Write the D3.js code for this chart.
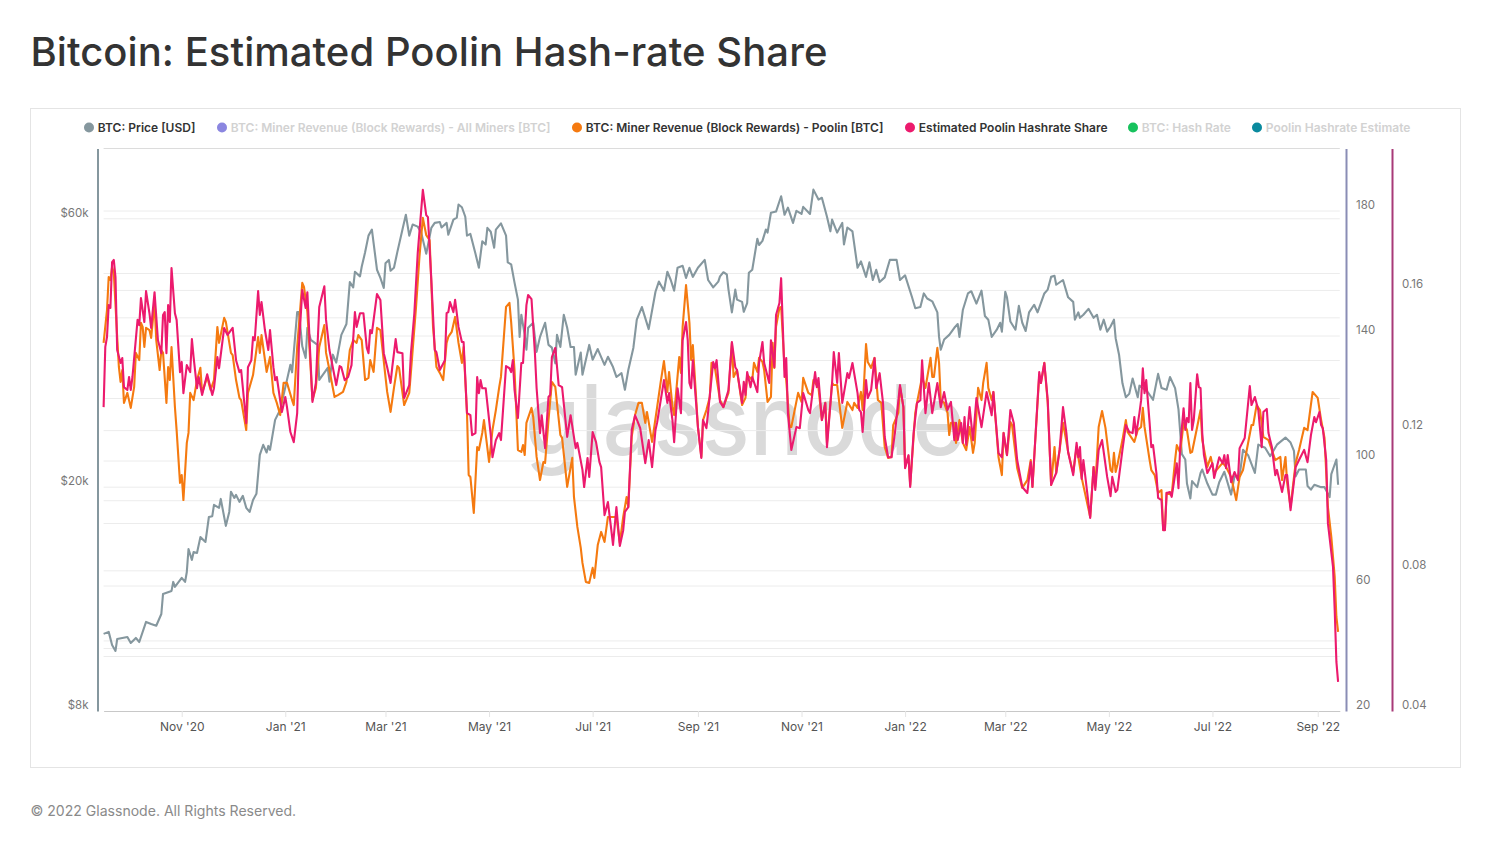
<!DOCTYPE html>
<html>

<head>
  <meta charset="utf-8">
  <title>Bitcoin: Estimated Poolin Hash-rate Share</title>
  <script src="https://d3js.org/d3.v7.min.js"></script>
  <style>
    body {
      margin: 0;
      background: #fff;
      font-family: Inter, "Noto Sans", sans-serif;
    }

    .axis text {
      font-family: Inter, "Noto Sans", sans-serif;
    }
  </style>
</head>

<body>
  <svg id="chart" width="1491" height="856"></svg>

  <script>
    var titleText = "Bitcoin: Estimated Poolin Hash-rate Share";
    var footerText = "\u00a9 2022 Glassnode. All Rights Reserved.";

    var legendLabels = ["BTC: Price [USD]", "BTC: Miner Revenue (Block Rewards) - All Miners [BTC]", "BTC: Miner Revenue (Block Rewards) - Poolin [BTC]", "Estimated Poolin Hashrate Share", "BTC: Hash Rate", "Poolin Hashrate Estimate"];
    var legendColors = ["#85979e", "#8b86e0", "#f57a10", "#ec1a6d", "#17c25d", "#0a8a9e"];
    var legendActive = [true, false, true, true, false, false];

    var monthTicks = ["2020-11-01", "2021-01-01", "2021-03-01", "2021-05-01", "2021-07-01", "2021-09-01", "2021-11-01", "2022-01-01", "2022-03-01", "2022-05-01", "2022-07-01", "2022-09-01"];
    var priceTicks = [8, 20, 60];
    var priceGrid = [10, 20, 40, 60];
    var revenueTicks = [20, 60, 100, 140, 180];
    var revenueGrid = [40, 60, 80, 100, 120, 140, 160, 180];
    var shareTicks = [0.04, 0.08, 0.12, 0.16];
    var shareGrid = [0.06, 0.08, 0.1, 0.12, 0.14, 0.16];

    // day numbers count from 16 Sep 2020, price is in $k
    var priceDays = [0, 3, 5, 7, 8, 14, 16, 19, 21, 25, 28, 31, 34, 35, 40, 41, 42, 46, 48, 49,
      50, 52, 53, 55, 57, 60, 62, 64, 65, 68, 69, 72, 74, 75, 77, 78, 80, 82, 84, 86,
      88, 90, 92, 94, 96, 97, 98, 101, 104, 108, 110, 111, 114, 115, 117, 119, 120, 122, 126, 127,
      132, 133, 135, 137, 140, 143, 145, 147, 148, 151, 152, 154, 156, 158, 161, 163, 165, 166, 168, 169,
      171, 173, 176, 178, 180, 182, 185, 187, 190, 193, 195, 198, 199, 202, 203, 206, 208, 209, 211, 213,
      214, 216, 219, 221, 223, 225, 226, 228, 230, 231, 234, 237, 238, 240, 242, 244, 245, 246, 248, 249,
      250, 253, 255, 257, 260, 262, 264, 266, 267, 269, 271, 273, 275, 277, 278, 281, 282, 286, 288, 291,
      295, 297, 300, 302, 305, 307, 309, 312, 314, 317, 321, 325, 327, 330, 332, 334, 336, 338, 341, 343,
      345, 347, 350, 354, 356, 359, 362, 363, 365, 367, 368, 370, 372, 373, 376, 377, 379, 380, 382, 385,
      386, 388, 390, 391, 393, 396, 399, 401, 403, 406, 408, 411, 412, 416, 418, 421, 423, 426, 428, 429,
      432, 435, 436, 438, 441, 444, 446, 449, 451, 453, 455, 457, 460, 463, 467, 469, 472, 476, 478, 481,
      483, 485, 488, 491, 492, 493, 495, 498, 501, 503, 504, 506, 509, 511, 514, 517, 519, 521, 523, 526,
      528, 529, 531, 532, 534, 537, 539, 541, 543, 545, 548, 550, 554, 556, 558, 560, 561, 565, 568, 571,
      572, 574, 575, 577, 580, 583, 585, 587, 589, 591, 593, 595, 596, 598, 600, 602, 604, 606, 609, 610,
      615, 618, 621, 623, 626, 628, 631, 633, 635, 637, 638, 640, 641, 644, 646, 647, 650, 653, 655, 657,
      660, 664, 666, 669, 671, 674, 678, 680, 684, 687, 691, 696, 699, 701, 702, 704, 708, 709, 711, 713,
      717, 719, 722, 723, 726, 727];
    var priceValues = [10.97, 11.06, 10.48, 10.23, 10.74, 10.83, 10.57, 10.79, 10.61, 11.52, 11.42, 11.34, 11.9, 12.92, 13.08, 13.57, 13.3, 13.8, 13.57, 14.13,
      15.53, 14.85, 15.34, 15.28, 16.3, 15.98, 17.7, 17.76, 18.6, 18.38, 19.06, 17.07, 18.07, 19.62, 19.14, 19.38, 18.83, 19.3, 18.38, 18.07,
      18.98, 19.46, 22.82, 23.78, 23.05, 23.68, 23.3, 26.34, 27.45, 31.03, 33, 32, 40.97, 40.97, 35.6, 33.95, 38.4, 36.56, 35.8, 31.03,
      32.6, 30.8, 34.4, 33.3, 37.3, 39, 46.3, 45.3, 48.3, 47.4, 49.3, 52.3, 56, 57.4, 48.7, 47.1, 45.2, 50, 50.7, 48.5,
      49.1, 52.4, 57.4, 61, 56, 58.6, 58.1, 56.7, 52, 57.8, 59, 59.2, 57.9, 59, 56.2, 59.8, 60.3, 63.6, 62.9, 60.5,
      56, 56.4, 52, 49.1, 54.7, 54, 57.8, 56.9, 53.3, 57.4, 58.9, 56, 50.2, 49.8, 46.2, 43.1, 37, 40.5, 37.3, 35.1,
      38.4, 39.2, 34.8, 37, 39.2, 35.8, 35.4, 33.2, 37.3, 35.5, 40.5, 38.4, 35.5, 35.5, 31.7, 34.7, 31.7, 35.8, 33.7, 35.2,
      33, 34.1, 32.7, 31.4, 31.9, 29.8, 32.3, 35.4, 39.7, 41.8, 38.2, 44.5, 46.4, 44.7, 48.3, 46.7, 44.7, 49.1, 49.5, 47.1,
      49.1, 47.3, 49.1, 50.7, 46.7, 45.3, 46.4, 47.4, 48.2, 47.8, 44.9, 40.9, 44.9, 43.1, 42.7, 41, 42.5, 48.1, 48.7, 55.3,
      53.9, 54.8, 57.4, 56.7, 61.5, 61.8, 65.8, 61, 62.8, 59, 62, 61.2, 63, 61.2, 67.6, 64.9, 65.4, 60.5, 57, 59.8,
      56.7, 59, 54, 57.9, 57, 49.1, 50.4, 47.3, 50.2, 46.7, 48.7, 46.3, 47.2, 50.7, 50.7, 46.7, 47.6, 43.6, 41.6, 41.8,
      44.2, 43.3, 42.8, 40.9, 37, 35.1, 36.6, 37.3, 38.4, 39, 37, 41.3, 44.2, 44.6, 42.4, 44.7, 40.3, 39.7, 37, 38.1,
      39.2, 37.8, 44.5, 43.5, 39.4, 38.1, 42, 39.2, 37.9, 40.9, 42.2, 40.9, 44.2, 44.9, 47.3, 47.5, 45.8, 46.7, 43.5, 42.7,
      39.7, 40.9, 40, 40.5, 41.5, 40, 40.5, 38.1, 39.7, 37.8, 38.6, 39.7, 36.8, 34.4, 30.6, 28.9, 29.3, 31.2, 28.9, 30.3,
      29.5, 28.6, 31.8, 30, 29.8, 31.4, 30, 27.5, 22.9, 22.4, 20.3, 19.1, 20.5, 20, 21.2, 21.5, 20.3, 19.4, 19.4, 20.4,
      21.3, 19.4, 20.9, 20.9, 23.3, 22.8, 21.2, 23.8, 23.5, 22.7, 23.8, 24.5, 24, 23.2, 20.9, 21.5, 21.5, 20.1, 19.8, 20.2,
      20, 20, 19.2, 21.1, 22.4, 20.2];

    var revenueDays = [0, 2, 3, 4, 5, 6, 8, 9, 10, 11, 12, 14, 16, 18, 19, 21, 22, 23, 24, 25,
      27, 28, 30, 31, 33, 34, 35, 37, 38, 39, 40, 42, 43, 45, 46, 47, 49, 50, 51, 53,
      55, 57, 58, 61, 63, 65, 67, 68, 71, 72, 75, 76, 78, 80, 81, 84, 85, 88, 91, 92,
      93, 96, 98, 100, 102, 104, 106, 108, 111, 112, 114, 117, 118, 120, 123, 125, 127, 130, 131, 133,
      136, 138, 141, 143, 145, 147, 149, 150, 152, 154, 156, 157, 159, 161, 163, 166, 167, 169, 171, 173,
      174, 177, 180, 181, 184, 186, 188, 190, 192, 194, 196, 198, 200, 202, 203, 205, 207, 209, 211, 212,
      214, 215, 216, 218, 220, 221, 223, 224, 227, 229, 231, 233, 234, 237, 239, 240, 242, 244, 246, 247,
      248, 249, 252, 253, 255, 257, 259, 260, 262, 264, 266, 269, 270, 272, 273, 276, 277, 279, 281, 282,
      284, 286, 288, 289, 291, 293, 295, 297, 302, 304, 306, 308, 309, 311, 313, 315, 317, 319, 320, 323,
      326, 328, 330, 332, 333, 335, 336, 339, 340, 341, 343, 345, 346, 347, 350, 352, 353, 355, 357, 358,
      360, 363, 365, 368, 370, 371, 373, 376, 378, 379, 382, 383, 385, 386, 388, 389, 391, 393, 394, 395,
      396, 398, 399, 401, 402, 404, 405, 409, 411, 412, 415, 417, 418, 421, 423, 425, 426, 429, 430, 432,
      435, 438, 441, 442, 444, 446, 447, 449, 450, 452, 454, 456, 458, 460, 462, 464, 465, 468, 469, 471,
      472, 474, 475, 478, 479, 482, 484, 487, 488, 489, 491, 492, 493, 495, 497, 498, 499, 501, 502, 504,
      506, 508, 510, 512, 513, 515, 517, 518, 520, 521, 523, 524, 527, 529, 530, 532, 534, 535, 538, 541,
      544, 546, 547, 551, 552, 554, 556, 558, 560, 561, 563, 565, 567, 568, 571, 573, 574, 576, 581, 583,
      584, 586, 588, 590, 593, 594, 595, 596, 597, 600, 602, 603, 607, 609, 611, 612, 613, 616, 617, 619,
      621, 623, 624, 625, 626, 629, 631, 632, 634, 636, 638, 640, 641, 644, 646, 647, 650, 652, 654, 659,
      661, 664, 667, 669, 671, 676, 677, 679, 681, 683, 686, 688, 690, 693, 694, 696, 697, 699, 702, 704,
      707, 709, 712, 715, 717, 719, 721, 723, 725, 726, 727];
    var revenueValues = [137.8, 148.3, 158.9, 157.9, 162.1, 160.2, 139.7, 130.1, 125.3, 129.1, 118.6, 121.8, 117, 123.7, 134.6, 132.3, 144.2, 142.9, 136.5, 142.6,
      141.9, 139.4, 150.6, 138.7, 129.1, 135.5, 134.6, 118.6, 130.1, 125.9, 136.5, 117.3, 109.9, 93, 95.5, 87.5, 105.8, 109, 121.8, 119.5,
      125.9, 129.8, 121.8, 126.9, 122.7, 125.9, 142.9, 137.8, 145.8, 144.5, 134.6, 133.9, 125.9, 120.2, 119.5, 109.9, 121.8, 127.5, 139.7, 134.6,
      140.3, 128.5, 133.3, 121.8, 118.6, 114.7, 125, 125, 119.5, 117.9, 136.5, 157, 155.7, 147.7, 119.5, 123.4, 136.5, 143.5, 134.6, 129.1,
      120.5, 121.1, 122.1, 125.3, 135.5, 138.7, 137.8, 140.3, 138.7, 125.9, 126.6, 132.3, 128.5, 142.6, 141.9, 126.9, 122.1, 115.7, 123.4, 130.4,
      129.8, 117.9, 121.8, 128.5, 149.3, 165.3, 177.8, 172.3, 170.7, 142.9, 130.1, 128.2, 125.9, 137.8, 139.7, 141.3, 146.1, 137.8, 131.4, 136.5,
      115.4, 95.5, 94.9, 83.4, 104.5, 103.5, 109, 113.1, 99.7, 109.9, 116.3, 123.7, 126.9, 149.3, 150.6, 144.5, 129.1, 103.5, 102.9, 105.1,
      101.9, 112.2, 117, 114.1, 101.3, 93.9, 99.7, 99.4, 113.1, 125.3, 123.7, 108.3, 107.4, 97.1, 91.7, 101, 88.5, 78.9, 72.2, 67.4,
      61.3, 61, 65.8, 62.6, 73.1, 77.3, 74.1, 82.1, 82.1, 73.8, 82.1, 88.5, 85.3, 107.7, 114.7, 118.6, 118.6, 112.2, 115.7, 106.1,
      117.3, 125, 132, 122.1, 128.5, 117.3, 114.7, 133.3, 128.2, 142.9, 156.3, 144.2, 132.3, 137.1, 110.9, 101.3, 113.1, 116.3, 120.5, 131.4,
      129.8, 119.5, 117.3, 121.8, 137.8, 126.9, 129.1, 117.9, 120.2, 127.5, 125.9, 131.4, 128.5, 133, 131.7, 129.1, 118.9, 120.5, 137.8, 129.8,
      142.9, 149, 149.3, 130.1, 125.9, 110.9, 110.9, 121.8, 118.9, 126.6, 121.8, 121.1, 125.9, 123.4, 113.1, 118.6, 105.8, 125, 124.3, 124.3,
      110.6, 118.9, 116.3, 118.6, 117, 122.1, 116.3, 137.4, 131.7, 129.8, 133, 119.5, 118.6, 104.5, 101, 101.3, 111.5, 115.4, 123.7, 117.3,
      98.1, 101.6, 92.3, 115.4, 118.6, 126.9, 123.4, 133, 126.9, 126.9, 136.2, 131.4, 119.5, 118.6, 115.4, 108.3, 112.2, 112.2, 105.8, 113.1,
      105.8, 103.5, 110.9, 102.6, 105.8, 123.4, 119.5, 125, 131.4, 123.4, 119.5, 122.1, 101.3, 95.5, 109, 101.9, 112.5, 111.5, 97.8, 91.4,
      93.9, 100.3, 91.7, 127.5, 125, 131.4, 118.6, 92.3, 104.5, 96.2, 103.5, 112.2, 106.1, 102.9, 96.2, 104.5, 101.3, 94.6, 82.1, 98.1,
      91.7, 110.9, 116, 110.6, 97.1, 96.5, 102.6, 96.5, 98.7, 106.7, 113.1, 109.3, 106.1, 109.9, 110.9, 117, 110.9, 100.3, 97.1, 95.5,
      89.8, 90.7, 77.9, 77.9, 89.8, 89.1, 100.3, 105.1, 102.6, 112.2, 109.9, 102.6, 102.9, 110.9, 116.3, 106.7, 98.1, 101.3, 96.2, 99.4,
      98.1, 94.9, 87.5, 94.9, 97.1, 111.5, 111.5, 117.9, 116.3, 107.7, 106.7, 103.5, 100.3, 101.3, 93.9, 101.3, 93, 85.3, 99.4, 103.5,
      110.6, 109.9, 122.1, 120.2, 113.1, 107.4, 85.3, 75.7, 62.9, 50.1, 45.3];

    var shareDays = [0, 1, 2, 3, 4, 5, 6, 7, 8, 10, 11, 12, 14, 15, 16, 17, 20, 21, 22, 24,
      25, 27, 28, 30, 32, 34, 35, 36, 37, 38, 39, 40, 42, 43, 45, 46, 47, 49, 51, 52,
      53, 55, 56, 58, 61, 64, 65, 67, 68, 71, 73, 76, 78, 80, 81, 84, 85, 87, 88, 89,
      91, 92, 93, 95, 97, 98, 100, 101, 102, 105, 107, 108, 110, 112, 114, 115, 117, 119, 120, 123,
      125, 127, 130, 131, 133, 137, 139, 140, 142, 144, 146, 148, 149, 151, 153, 155, 156, 157, 158, 161,
      163, 165, 167, 169, 170, 172, 173, 176, 177, 180, 181, 183, 185, 188, 190, 191, 193, 195, 196, 198,
      201, 202, 203, 204, 206, 207, 209, 211, 212, 214, 216, 217, 219, 220, 221, 222, 223, 225, 228, 229,
      231, 233, 234, 237, 239, 240, 241, 242, 244, 246, 247, 249, 250, 252, 254, 255, 257, 258, 260, 262,
      263, 264, 266, 268, 270, 273, 275, 278, 279, 282, 283, 285, 286, 288, 290, 292, 293, 295, 297, 299,
      300, 302, 304, 306, 307, 309, 311, 313, 316, 319, 321, 323, 325, 326, 330, 332, 333, 335, 336, 338,
      340, 341, 343, 344, 345, 346, 347, 350, 352, 353, 355, 356, 359, 360, 361, 363, 365, 368, 370, 372,
      373, 376, 377, 378, 379, 381, 382, 385, 386, 388, 389, 392, 393, 395, 396, 398, 399, 400, 401, 402,
      403, 405, 408, 410, 412, 415, 416, 419, 420, 421, 423, 425, 426, 429, 430, 432, 433, 435, 438, 439,
      441, 444, 445, 446, 447, 449, 450, 452, 454, 455, 457, 459, 460, 462, 464, 466, 469, 471, 472, 474,
      475, 477, 479, 481, 482, 484, 486, 488, 491, 493, 495, 497, 499, 501, 502, 503, 505, 506, 507, 508,
      510, 512, 514, 517, 520, 523, 524, 527, 529, 530, 532, 534, 536, 538, 541, 544, 546, 547, 551, 552,
      554, 556, 558, 561, 563, 565, 567, 568, 571, 573, 574, 575, 576, 577, 581, 583, 584, 586, 588, 591,
      593, 594, 596, 597, 600, 602, 604, 606, 607, 608, 610, 611, 612, 613, 614, 616, 617, 618, 620, 621,
      623, 624, 625, 626, 628, 629, 632, 633, 634, 636, 637, 638, 639, 640, 641, 642, 644, 645, 646, 647,
      648, 650, 653, 654, 657, 659, 660, 661, 662, 664, 666, 668, 669, 672, 675, 676, 678, 680, 682, 683,
      685, 686, 688, 690, 691, 694, 696, 697, 699, 702, 704, 707, 709, 711, 713, 714, 716, 717, 718, 720,
      721, 724, 725, 726, 727];
    var shareValues = [0.1267, 0.1439, 0.1467, 0.1558, 0.155, 0.1681, 0.1687, 0.1638, 0.143, 0.1393, 0.1407, 0.1324, 0.1316, 0.1353, 0.1316, 0.1353, 0.1516, 0.1501, 0.1578, 0.151,
      0.1598, 0.1535, 0.1493, 0.1595, 0.1458, 0.1421, 0.153, 0.1538, 0.1421, 0.1558, 0.151, 0.1664, 0.1535, 0.1516, 0.1367, 0.1396, 0.1307, 0.1387, 0.1367, 0.1461,
      0.141, 0.1321, 0.1353, 0.1302, 0.1361, 0.1302, 0.1321, 0.141, 0.1378, 0.1493, 0.1473, 0.1493, 0.1401, 0.1367, 0.1373, 0.1221, 0.1381, 0.1401, 0.1467, 0.1458,
      0.1598, 0.153, 0.1567, 0.1487, 0.143, 0.1487, 0.1381, 0.1344, 0.1353, 0.1253, 0.1296, 0.1267, 0.1196, 0.1167, 0.125, 0.1439, 0.1601, 0.155, 0.1595, 0.1282,
      0.1336, 0.1553, 0.1612, 0.1516, 0.143, 0.133, 0.1384, 0.1381, 0.1344, 0.1353, 0.1387, 0.1538, 0.1496, 0.1535, 0.1535, 0.1436, 0.1421, 0.1487, 0.1478, 0.159,
      0.1573, 0.1421, 0.1381, 0.1336, 0.1381, 0.1461, 0.1424, 0.1421, 0.1293, 0.133, 0.1421, 0.1535, 0.1707, 0.1887, 0.1815, 0.1809, 0.163, 0.143, 0.1424, 0.1373,
      0.1401, 0.1535, 0.1538, 0.1567, 0.1538, 0.1573, 0.1496, 0.1453, 0.1453, 0.125, 0.1244, 0.1187, 0.1193, 0.1353, 0.1307, 0.1344, 0.1321, 0.1321, 0.1187, 0.1124,
      0.1173, 0.1193, 0.1173, 0.1384, 0.1378, 0.1367, 0.1401, 0.1316, 0.1236, 0.1393, 0.1393, 0.1558, 0.1587, 0.1575, 0.1421, 0.1321, 0.1193, 0.1244, 0.115, 0.1296,
      0.1302, 0.141, 0.1436, 0.133, 0.1324, 0.1182, 0.1244, 0.115, 0.1165, 0.1088, 0.1039, 0.1122, 0.1068, 0.1196, 0.1167, 0.111, 0.1096, 0.0959, 0.0996, 0.0916,
      0.0874, 0.0982, 0.0871, 0.0916, 0.0968, 0.0982, 0.1202, 0.1244, 0.1207, 0.1107, 0.1173, 0.1096, 0.1202, 0.1224, 0.1344, 0.1279, 0.1307, 0.123, 0.1167, 0.1321,
      0.125, 0.1458, 0.151, 0.1458, 0.1336, 0.1321, 0.1401, 0.121, 0.1122, 0.123, 0.1207, 0.1253, 0.1396, 0.1378, 0.1401, 0.1282, 0.1267, 0.1316, 0.1453, 0.1381,
      0.1373, 0.1279, 0.1339, 0.1302, 0.1367, 0.1324, 0.1353, 0.131, 0.1393, 0.1453, 0.1393, 0.1336, 0.1458, 0.1381, 0.153, 0.1564, 0.1635, 0.1496, 0.1353, 0.1407,
      0.125, 0.1145, 0.121, 0.1207, 0.1307, 0.1259, 0.125, 0.1367, 0.1324, 0.135, 0.123, 0.1279, 0.1153, 0.1336, 0.1424, 0.1336, 0.1421, 0.1279, 0.1364, 0.135,
      0.1393, 0.1307, 0.1259, 0.1253, 0.1196, 0.1344, 0.1293, 0.1316, 0.1407, 0.1321, 0.1364, 0.1279, 0.1182, 0.1124, 0.1124, 0.1193, 0.133, 0.1267, 0.1093, 0.113,
      0.1039, 0.1193, 0.1279, 0.1287, 0.1401, 0.125, 0.1336, 0.125, 0.1336, 0.1267, 0.131, 0.1259, 0.1282, 0.1173, 0.1222, 0.1173, 0.1222, 0.1165, 0.1239, 0.1159,
      0.1267, 0.1173, 0.1293, 0.121, 0.131, 0.1244, 0.131, 0.1136, 0.1124, 0.1193, 0.113, 0.1259, 0.1222, 0.1116, 0.1039, 0.1022, 0.111, 0.1039, 0.1367, 0.1336,
      0.1393, 0.1287, 0.1045, 0.1079, 0.1145, 0.1267, 0.1193, 0.1139, 0.1073, 0.1165, 0.1124, 0.1153, 0.1062, 0.1116, 0.0951, 0.1096, 0.1031, 0.1145, 0.1173, 0.1068,
      0.1013, 0.1068, 0.1025, 0.1031, 0.1145, 0.1216, 0.1196, 0.1193, 0.1239, 0.1187, 0.125, 0.1287, 0.1378, 0.1307, 0.1344, 0.1222, 0.1153, 0.1159, 0.1079, 0.1008,
      0.1002, 0.0916, 0.0916, 0.1022, 0.1025, 0.1011, 0.1107, 0.1036, 0.1153, 0.1264, 0.1202, 0.1236, 0.1224, 0.1336, 0.1202, 0.123, 0.1361, 0.1324, 0.1321, 0.1193,
      0.113, 0.1079, 0.1107, 0.1065, 0.1124, 0.1107, 0.113, 0.1093, 0.113, 0.1053, 0.1082, 0.1059, 0.115, 0.1179, 0.1327, 0.1273, 0.1296, 0.1259, 0.1153, 0.1253,
      0.1262, 0.1193, 0.1153, 0.1073, 0.1088, 0.1025, 0.1073, 0.1073, 0.0973, 0.1096, 0.1116, 0.1145, 0.111, 0.1187, 0.1239, 0.1224, 0.1253, 0.1216, 0.1207, 0.1116,
      0.0936, 0.0811, 0.0688, 0.054, 0.0483];

    var svg = d3.select("#chart");

    var startDate = new Date(Date.UTC(2020, 8, 16));
    function dayToDate(d) {
      return d3.utcDay.offset(startDate, d);
    }

    var x = d3.scaleUtc()
      .domain([startDate, dayToDate(728)])
      .range([103.6, 1339.8]);
    var yPrice = d3.scaleLog().domain([8, 80]).range([711, 148.5]);
    var yRevenue = d3.scaleLinear().domain([20, 200]).range([711, 148.5]);
    var yShare = d3.scaleLinear().domain([0.04, 0.2005]).range([711, 148.5]);

    // title and footer
    svg.append("text")
      .attr("x", 30.5)
      .attr("y", 65.5)
      .attr("font-size", 40)
      .attr("font-weight", 500)
      .attr("letter-spacing", 0.05)
      .attr("fill", "#333")
      .text(titleText);

    svg.append("text")
      .attr("x", 30.5)
      .attr("y", 816)
      .attr("font-size", 14.05)
      .attr("fill", "#8a8a8a")
      .text(footerText);

    // card
    svg.append("rect")
      .attr("x", 30.5)
      .attr("y", 108.5)
      .attr("width", 1430)
      .attr("height", 659)
      .attr("fill", "#fff")
      .attr("stroke", "#e4e4e4");

    // legend
    var legendX = [89, 222, 577, 910, 1133, 1257];
    var legend = svg.append("g")
      .selectAll("g")
      .data(legendLabels)
      .enter()
      .append("g")
      .attr("transform", function (d, i) { return "translate(" + legendX[i] + ",127.5)"; });

    legend.append("circle")
      .attr("r", 5)
      .attr("fill", function (d, i) { return legendColors[i]; });

    legend.append("text")
      .attr("x", 8.8)
      .attr("dy", "0.35em")
      .attr("font-size", 12)
      .attr("font-weight", 600)
      .attr("fill", function (d, i) { return legendActive[i] ? "#333" : "#d2d2d2"; })
      .text(function (d) { return d; });

    // watermark
    svg.append("text")
      .attr("x", 525)
      .attr("y", 455)
      .attr("font-family", "Inter, sans-serif")
      .attr("font-size", 97)
      .attr("font-weight", 500)
      .attr("textLength", 440)
      .attr("lengthAdjust", "spacingAndGlyphs")
      .attr("fill", "#dadada")
      .text("glassnode");

    // grid lines, every scale adds its own
    var gridY = priceGrid.map(function (d) { return yPrice(d); })
      .concat(revenueGrid.map(function (d) { return yRevenue(d); }))
      .concat(shareGrid.map(function (d) { return yShare(d); }));

    svg.append("g")
      .selectAll("line")
      .data(gridY)
      .enter()
      .append("line")
      .attr("x1", x.range()[0])
      .attr("x2", x.range()[1])
      .attr("y1", function (d) { return d; })
      .attr("y2", function (d) { return d; })
      .attr("stroke", "#ececec")
      .attr("stroke-width", 1);

    svg.append("line")
      .attr("x1", x.range()[0])
      .attr("x2", x.range()[1])
      .attr("y1", 148.5)
      .attr("y2", 148.5)
      .attr("stroke", "#dcdcdc");

    // axes
    function styleAxis(g, lineColor) {
      g.attr("class", "axis");
      g.select(".domain").attr("stroke", lineColor).attr("stroke-width", 2);
      g.selectAll(".tick line").remove();
      g.selectAll("text")
        .attr("fill", "#777")
        .attr("font-size", 11.5)
        .attr("dy", null)
        .attr("y", -2.5);
    }

    svg.append("g")
      .attr("transform", "translate(97.5,0)")
      .call(d3.axisLeft(yPrice).tickValues(priceTicks).tickSize(0).tickPadding(9)
        .tickFormat(function (d) { return "$" + d + "k"; }))
      .call(styleAxis, "#85979e");

    svg.append("g")
      .attr("transform", "translate(1346,0)")
      .call(d3.axisRight(yRevenue).tickValues(revenueTicks).tickSize(0).tickPadding(10))
      .call(styleAxis, "#8a8db5");

    svg.append("g")
      .attr("transform", "translate(1392,0)")
      .call(d3.axisRight(yShare).tickValues(shareTicks).tickSize(0).tickPadding(10)
        .tickFormat(d3.format(".2f")))
      .call(styleAxis, "#a83a78");

    var xAxis = svg.append("g")
      .attr("class", "axis")
      .attr("transform", "translate(0,711)")
      .call(d3.axisBottom(x)
        .tickValues(monthTicks.map(function (d) { return new Date(d); }))
        .tickSizeInner(6)
        .tickSizeOuter(0)
        .tickPadding(5)
        .tickFormat(d3.utcFormat("%b '%y")));

    xAxis.select(".domain").attr("stroke", "#c8c8c8");
    xAxis.selectAll(".tick line").attr("stroke", "#e4e4e4");
    xAxis.selectAll("text").attr("fill", "#555").attr("font-size", 12);

    // series, back to front
    function drawSeries(days, values, yScale, color) {
      var line = d3.line()
        .x(function (d) { return x(dayToDate(d[0])); })
        .y(function (d) { return yScale(d[1]); });

      svg.append("path")
        .datum(d3.zip(days, values))
        .attr("fill", "none")
        .attr("stroke", color)
        .attr("stroke-width", 2.1)
        .attr("stroke-linejoin", "round")
        .attr("d", line);
    }

    drawSeries(priceDays, priceValues, yPrice, "#85979e");
    drawSeries(revenueDays, revenueValues, yRevenue, "#f57a10");
    drawSeries(shareDays, shareValues, yShare, "#ec1a6d");
  </script>
</body>

</html>
